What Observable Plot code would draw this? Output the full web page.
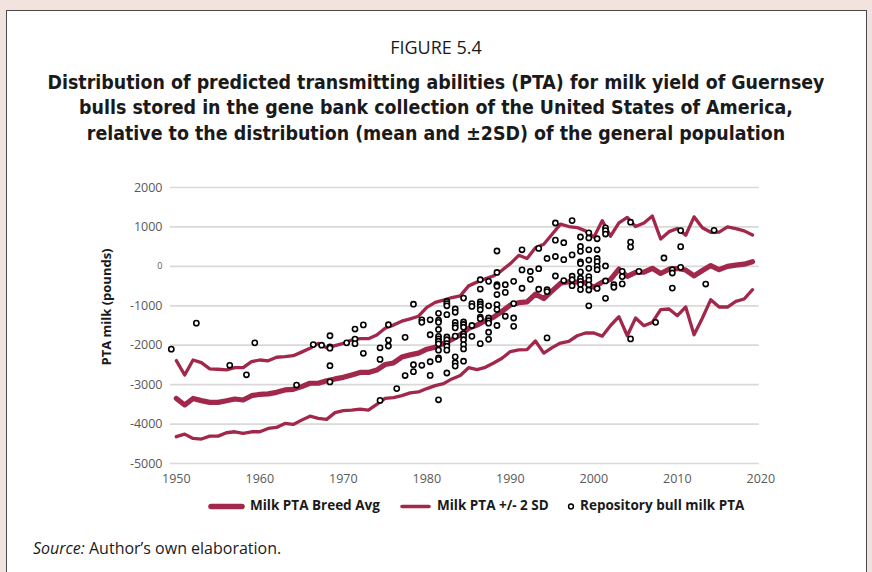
<!DOCTYPE html>
<html><head><meta charset="utf-8">
<script src="https://cdn.jsdelivr.net/npm/d3@7"></script>
<script src="https://cdn.jsdelivr.net/npm/@observablehq/plot@0.6"></script>
<style>
html,body{margin:0;padding:0}
body{width:872px;height:572px;background:#f2e3df;position:relative;overflow:hidden;font-family:"Open Sans","Noto Sans",sans-serif}
#panel{position:absolute;left:6px;top:10px;width:859px;height:600px;background:#fff;border:1px solid #4a4a4a}
.t{position:absolute;left:0;width:872px;text-align:center;white-space:nowrap;color:#1a1a1a}
#fig{top:34.7px;font-size:18px;font-family:"Open Sans",sans-serif}
.bt{font-weight:bold;font-size:19.4px;font-family:"DejaVu Sans Condensed","Open Sans",sans-serif}
#ylab{position:absolute;left:106px;top:307px;transform:translate(-50%,-50%) rotate(-90deg);font-weight:bold;font-size:13px;white-space:nowrap;color:#1a1a1a}
#chart{position:absolute;left:0;top:170px}
#legend{position:absolute;top:496px;left:0;width:872px;height:20px;font-weight:bold;font-size:13.5px;color:#1a1a1a}
#legend span{position:absolute;top:0;white-space:nowrap}
#legend svg{position:absolute;top:0}
#src{position:absolute;left:33px;top:537px;font-size:16px;color:#1a1a1a;white-space:nowrap}
</style></head>
<body>
<div id="panel"></div>
<div class="t" id="fig">FIGURE 5.4</div>
<div class="t bt" style="top:70.5px">Distribution of predicted transmitting abilities (PTA) for milk yield of Guernsey</div>
<div class="t bt" style="top:96px">bulls stored in the gene bank collection of the United States of America,</div>
<div class="t bt" style="top:121.5px">relative to the distribution (mean and ±2SD) of the general population</div>
<div id="ylab">PTA milk (pounds)</div>
<div id="chart"></div>
<div id="legend"></div>
<div id="src"><i>Source:</i> Author’s own elaboration.</div>
<script>
const lineColor = "#a2284b";

const years = [1950,1951,1952,1953,1954,1955,1956,1957,1958,1959,1960,1961,1962,1963,1964,1965,1966,1967,1968,1969,
1970,1971,1972,1973,1974,1975,1976,1977,1978,1979,1980,1981,1982,1983,1984,1985,1986,1987,1988,1989,
1990,1991,1992,1993,1994,1995,1996,1997,1998,1999,2000,2001,2002,2003,2004,2005,2006,2007,2008,2009,
2010,2011,2012,2013,2014,2015,2016,2017,2018,2019];

const breedAvg = [-3350,-3515,-3350,-3405,-3450,-3450,-3410,-3365,-3390,-3280,-3245,-3235,-3195,-3135,-3120,-3050,-2965,-2965,-2900,-2855,
-2815,-2755,-2690,-2690,-2630,-2490,-2450,-2300,-2245,-2200,-2100,-2050,-1955,-1855,-1735,-1575,-1490,-1380,-1285,-1140,
-980,-920,-900,-705,-815,-620,-430,-390,-400,-420,-530,-400,-330,-70,-254,-155,-148,-50,-180,-72,
-55,-93,-240,-105,20,-85,0,33,55,118];

const upper2SD = [-2390,-2755,-2375,-2440,-2600,-2610,-2625,-2570,-2570,-2415,-2375,-2395,-2305,-2290,-2265,-2175,-2080,-1955,-2065,-2010,
-1955,-1870,-1835,-1835,-1740,-1570,-1490,-1390,-1330,-1265,-1040,-915,-855,-790,-750,-495,-400,-315,-240,-100,
70,280,200,470,560,815,1070,1010,985,900,740,1160,765,1100,1240,1010,1100,1275,695,880,
960,790,1255,980,865,870,1000,955,900,795];

const lower2SD = [-4320,-4255,-4365,-4380,-4305,-4305,-4220,-4195,-4235,-4195,-4195,-4110,-4085,-3985,-4010,-3900,-3800,-3855,-3880,-3710,
-3660,-3645,-3620,-3645,-3500,-3350,-3330,-3280,-3210,-3185,-3100,-3025,-2975,-2855,-2770,-2570,-2620,-2560,-2450,-2330,
-2160,-2120,-2110,-1890,-2200,-2060,-1945,-1900,-1760,-1690,-1690,-1770,-1500,-1275,-1760,-1310,-1505,-1420,-1099,-1082,
-1251,-1031,-1733,-1310,-845,-1031,-1031,-888,-828,-592];

// Repository bulls: birth year and milk PTA (pounds)
const bullYear = [1949,1952,1956,1958,1959,1964,1966,1967,
1968,1968,1968,1968,1968,1970,1971,1971,1971,1972,1972,1974,1974,1974,1975,1975,1975,1976,1977,1977,
1978,1978,1978,1979,1979,1979,1980,1980,1980,1980,
1981,1981,1981,1981,1981,1981,1981,1981,1981,1981,1981,1981,
1982,1982,1982,1982,1982,1982,1982,1982,1982,1982,
1983,1983,1983,1983,1983,1983,1983,1983,1983,
1984,1984,1984,1984,1984,1984,1984,1984,1984,1984,
1985,1985,1985,1985,
1986,1986,1986,1986,1986,1986,1986,1986,1986,
1987,1987,1987,1987,1987,1987,1987,
1988,1988,1988,1988,1988,1988,1988,1988,
1989,1989,1989,1990,1990,1990,1990,1991,1991,1991,1992,1992,1993,1993,1993,1994,1994,1994,1994,
1995,1995,1995,1995,1996,1996,1996,1997,1997,1997,1997,1997,
1998,1998,1998,1998,1998,1998,1998,1998,1998,1998,
1999,1999,1999,1999,1999,1999,1999,1999,1999,1999,
2000,2000,2000,2000,2000,2000,2000,
2001,2001,2001,2001,2001,2001,2002,2002,2003,2003,2003,2004,2004,2004,2004,
2005,2007,2008,2009,2009,2009,2010,2010,2010,2013,2014];

const bullPTA = [-2100,-1440,-2510,-2750,-1940,-3010,-1985,-2000,
-1760,-2040,-2075,-2520,-2930,-1940,-1590,-1845,-1960,-1485,-2205,-2065,-2360,-3400,-1480,-1870,-2020,-3100,-1800,-2770,
-960,-2495,-2670,-1355,-1420,-2510,-1355,-1735,-2420,-2765,
-1190,-1365,-1420,-1600,-1775,-1840,-1900,-1965,-2125,-2320,-2360,-3385,
-890,-945,-1000,-1225,-1790,-1860,-1960,-2025,-2125,-2705,
-1080,-1165,-1420,-1500,-1560,-1770,-2295,-2445,-2530,
-805,-1410,-1475,-1545,-1715,-1775,-1860,-1985,-2095,-2405,
-945,-1015,-1500,-1775,
-340,-575,-900,-960,-1020,-1100,-1290,-1330,-1960,
-380,-1000,-1310,-1380,-1440,-1670,-1850,
390,-155,-465,-505,-715,-970,-1095,-1500,
-465,-660,-1265,-380,-945,-1310,-1520,420,-90,-555,-130,-330,455,-60,-580,200,-590,-640,-1815,
1100,665,250,-245,600,170,-360,1160,290,-250,-340,-490,
745,505,380,110,70,-140,-300,-380,-460,-590,
850,720,420,160,-50,-260,-350,-470,-600,-1000,
700,420,200,120,0,-85,-560,
975,905,820,10,-370,-810,-465,-530,-127,-260,-445,1120,615,490,-1840,
-127,-1420,212,-85,-169,-551,907,500,-25,-449,915];

const yTicks = [2000,1000,0,-1000,-2000,-3000,-4000,-5000];
const xTicks = [1950,1960,1970,1980,1990,2000,2010,2020];

const chart = Plot.plot({
  width: 872, height: 320,
  marginLeft: 170, marginRight: 872 - 758.7, marginTop: 17, marginBottom: 27,
  x: {domain: [1949.3, 2019.8], axis: null},
  y: {domain: [-5000, 2000], axis: null},
  style: {fontFamily: '"Open Sans", sans-serif', background: "transparent", overflow: "visible"},
  marks: [
    Plot.ruleY(yTicks, {y: d => d, stroke: "#d9d9d9", strokeWidth: 1.7}),
    Plot.text(yTicks, {y: d => d, frameAnchor: "left", dx: -8, textAnchor: "end",
      text: d => String(d), fill: "#595959", fontSize: d => d === 0 ? 9 : 12.5, fontWeight: d => d === 0 ? "bold" : "normal"}),
    Plot.text(xTicks, {x: d => d, frameAnchor: "bottom", dy: 19.5, text: d => String(d), fill: "#595959", fontSize: 12.5}),
    Plot.line(years, {x: d => d, y: (d, i) => lower2SD[i], stroke: lineColor, strokeWidth: 3.3}),
    Plot.line(years, {x: d => d, y: (d, i) => upper2SD[i], stroke: lineColor, strokeWidth: 3.3}),
    Plot.line(years, {x: d => d, y: (d, i) => breedAvg[i], stroke: lineColor, strokeWidth: 5.2}),
    Plot.dot(bullYear, {x: d => d, y: (d, i) => bullPTA[i], dx: 3.3, r: 2.6, stroke: "#000", strokeWidth: 1.6, fill: "#fff"})
  ]
});
document.getElementById("chart").appendChild(chart);

// legend
const legendItems = [
  {label: "Milk PTA Breed Avg", kind: "thick", sx: 208, tx: 250},
  {label: "Milk PTA +/- 2 SD", kind: "thin", sx: 399, tx: 437},
  {label: "Repository bull milk PTA", kind: "dot", sx: 566, tx: 580}
];
const leg = document.getElementById("legend");
for (const it of legendItems) {
  const ns = "http://www.w3.org/2000/svg";
  const s = document.createElementNS(ns, "svg");
  if (it.kind === "dot") {
    s.setAttribute("width", 10); s.setAttribute("height", 20);
    s.style.left = it.sx + "px";
    const c = document.createElementNS(ns, "circle");
    c.setAttribute("cx", 5); c.setAttribute("cy", 10.5); c.setAttribute("r", 2.4);
    c.setAttribute("fill", "#fff"); c.setAttribute("stroke", "#000"); c.setAttribute("stroke-width", 1.5);
    s.appendChild(c);
  } else {
    const w = it.kind === "thick" ? 37 : 33;
    s.setAttribute("width", w); s.setAttribute("height", 20);
    s.style.left = it.sx + "px";
    const l = document.createElementNS(ns, "line");
    l.setAttribute("x1", 3); l.setAttribute("x2", w - 3); l.setAttribute("y1", 10.5); l.setAttribute("y2", 10.5);
    l.setAttribute("stroke", lineColor); l.setAttribute("stroke-width", it.kind === "thick" ? 5.5 : 3.5);
    l.setAttribute("stroke-linecap", "round");
    s.appendChild(l);
  }
  leg.appendChild(s);
  const sp = document.createElement("span");
  sp.textContent = it.label; sp.style.left = it.tx + "px";
  leg.appendChild(sp);
}
</script>
</body></html>
